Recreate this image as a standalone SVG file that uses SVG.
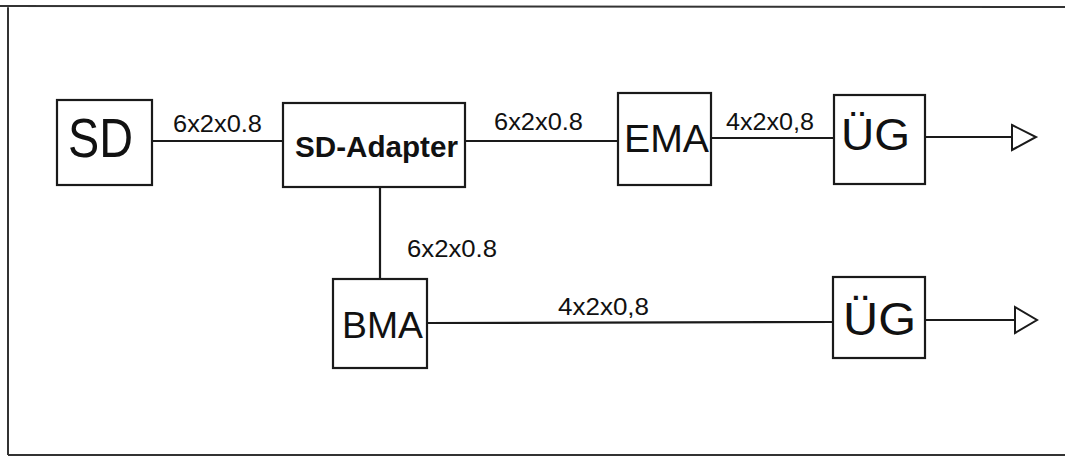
<svg xmlns="http://www.w3.org/2000/svg" width="1065" height="458" viewBox="0 0 1065 458">
<defs>
<style>
.box{fill:#fff;stroke:#1a1a1a;stroke-width:2.2}
.ln{stroke:#1a1a1a;stroke-width:2.2;fill:none}
.head{fill:#fff;stroke:#1a1a1a;stroke-width:2}
.t{font-family:"Liberation Sans",Arial,sans-serif;fill:#111}
.lbl{font-family:"Liberation Sans",Arial,sans-serif;fill:#111;font-size:23px}
</style>
</defs>
<rect x="0" y="0" width="1065" height="458" fill="#fff"/>
<g id="frame">
<path d="M0 6 L1065 7 M8 6 L8 455 M8 455 L1065 455" stroke="#333" stroke-width="2" fill="none"/>
</g>
<g id="connectors">
<line class="ln" x1="152" y1="141" x2="283" y2="141"/>
<line class="ln" x1="465" y1="141" x2="618" y2="141"/>
<line class="ln" x1="711" y1="138" x2="834" y2="138"/>
<line class="ln" x1="925" y1="137" x2="1012" y2="137"/>
<polygon class="head" points="1012,125 1036,137 1012,150"/>
<line class="ln" x1="380" y1="187" x2="380" y2="279"/>
<line class="ln" x1="427" y1="323" x2="833" y2="322"/>
<line class="ln" x1="925" y1="320" x2="1015" y2="320"/>
<polygon class="head" points="1015,307 1037,320 1015,333"/>
<text class="lbl" x="173" y="132" textLength="89" lengthAdjust="spacingAndGlyphs">6x2x0.8</text>
<text class="lbl" x="494" y="130" textLength="89" lengthAdjust="spacingAndGlyphs">6x2x0.8</text>
<text class="lbl" x="726" y="130" textLength="88" lengthAdjust="spacingAndGlyphs">4x2x0,8</text>
<text class="lbl" x="407" y="257" textLength="90" lengthAdjust="spacingAndGlyphs">6x2x0.8</text>
<text class="lbl" x="558" y="315" textLength="91" lengthAdjust="spacingAndGlyphs">4x2x0,8</text>
</g>
<g id="sd">
<rect class="box" x="57" y="100" width="95" height="85"/>
<text class="t" x="68" y="157" font-size="55" textLength="65" lengthAdjust="spacingAndGlyphs">SD</text>
</g>
<g id="sd-adapter">
<rect class="box" x="283" y="103" width="182" height="84"/>
<text class="t" x="295" y="157" font-size="30" font-weight="bold" textLength="163" lengthAdjust="spacingAndGlyphs">SD-Adapter</text>
</g>
<g id="ema">
<rect class="box" x="618" y="93" width="93" height="92"/>
<text class="t" x="624" y="152" font-size="38" textLength="85" lengthAdjust="spacingAndGlyphs">EMA</text>
</g>
<g id="ug1">
<rect class="box" x="834" y="95" width="91" height="89"/>
<text class="t" x="841" y="150" font-size="44" textLength="69" lengthAdjust="spacingAndGlyphs">ÜG</text>
</g>
<g id="bma">
<rect class="box" x="333" y="279" width="94" height="89"/>
<text class="t" x="342" y="338" font-size="37" textLength="81" lengthAdjust="spacingAndGlyphs">BMA</text>
</g>
<g id="ug2">
<rect class="box" x="833" y="277" width="92" height="81"/>
<text class="t" x="843" y="335" font-size="46" textLength="73" lengthAdjust="spacingAndGlyphs">ÜG</text>
</g>
</svg>
